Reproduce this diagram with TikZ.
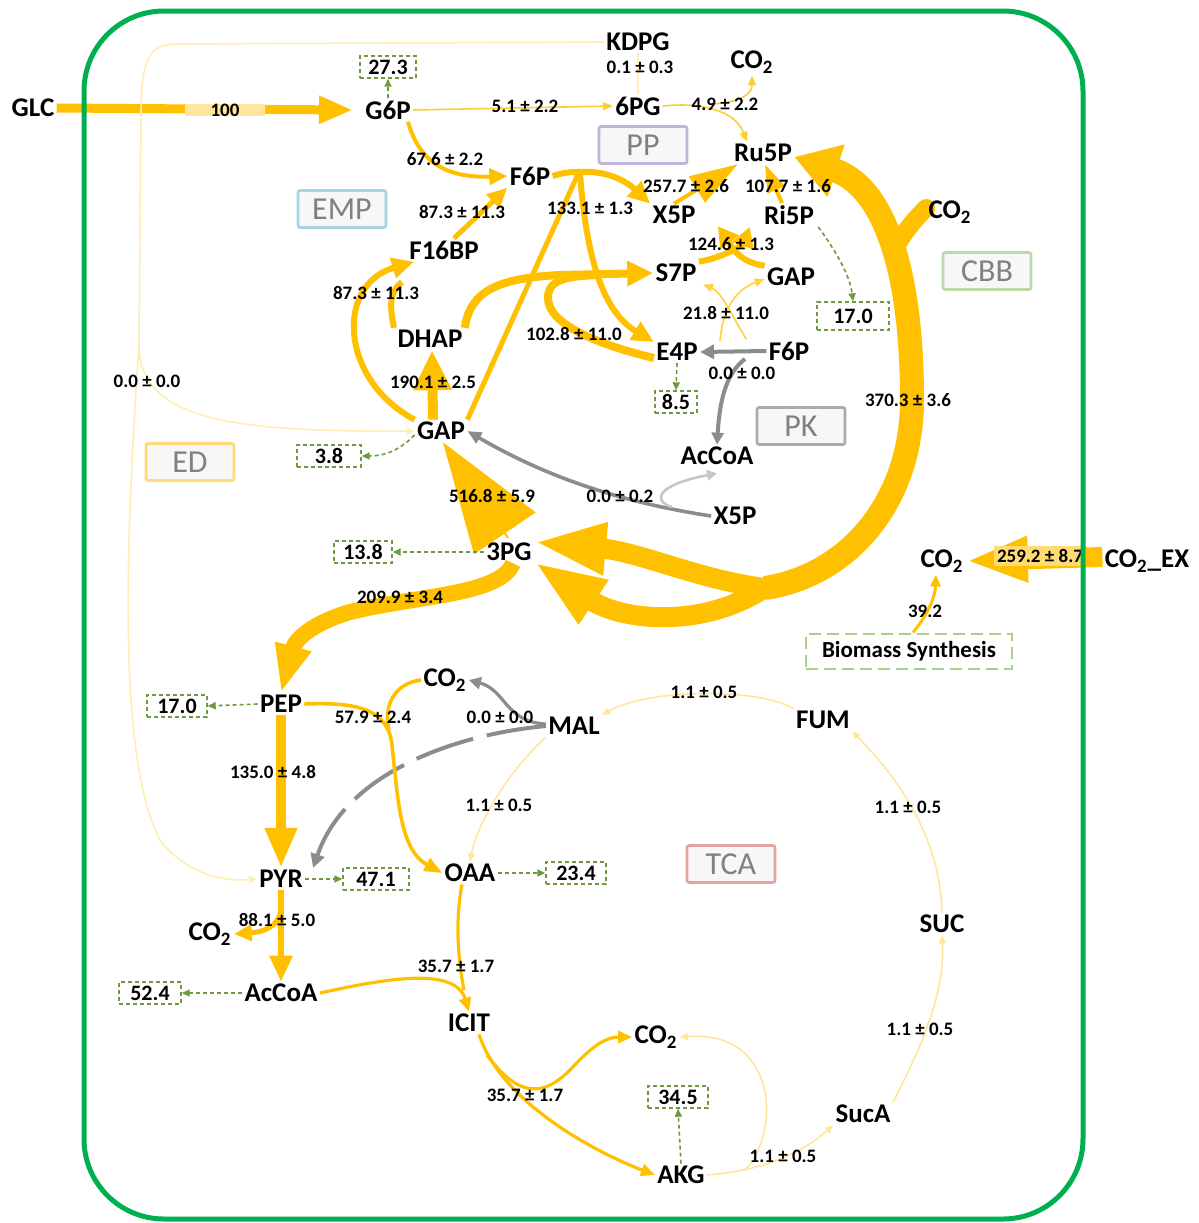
\documentclass[tikz,border=0pt]{standalone}
\usepackage{fontspec}
\setmainfont{Carlito}
\usetikzlibrary{arrows.meta,backgrounds}
\definecolor{gold}{HTML}{FFC000}
\definecolor{pale}{HTML}{FFE699}
\definecolor{paler}{HTML}{FFEDB3}
\definecolor{cellg}{HTML}{00B050}
\definecolor{drn}{HTML}{6E9A3E}
\definecolor{gry}{HTML}{8C8C8C}
\definecolor{hl}{HTML}{FFE69C}
\definecolor{empc}{HTML}{A6D3E3}
\definecolor{ppc}{HTML}{BEB3DA}
\definecolor{cbbc}{HTML}{BCD9A6}
\definecolor{pkc}{HTML}{ABABAB}
\definecolor{edc}{HTML}{FFD97A}
\definecolor{tcac}{HTML}{E3A3A3}
\definecolor{bioc}{HTML}{A9D18E}
\begin{document}
\begin{tikzpicture}[x=0.5pt,y=-0.5pt,
  met/.style={font=\fontsize{13.5}{15}\selectfont\bfseries, inner sep=1pt},
  flux/.style={font=\fontsize{9.5}{11}\selectfont\bfseries, inner sep=0.5pt},
  drain/.style={draw=drn, dash pattern=on 2pt off 1.5pt, line width=0.7pt, font=\fontsize{11}{12}\selectfont\bfseries, inner sep=1.5pt, minimum height=11pt, minimum width=30pt},
  cat/.style={draw=#1, line width=1.3pt, fill=black!3, text=black!50, font=\fontsize{16}{18}\selectfont, minimum width=44pt, minimum height=18.5pt, inner sep=1pt, rounded corners=1pt},
  bio/.style={draw=bioc, line width=1pt, dash pattern=on 6pt off 3pt, font=\fontsize{11.5}{13}\selectfont\bfseries, minimum width=103pt, minimum height=17.5pt, inner sep=2pt},
  dl/.style={draw=drn, line width=0.8pt, dash pattern=on 2pt off 1.5pt, -{Triangle[length=4pt,width=3.5pt]}},
  pl/.style={draw=pale, line width=0.8pt},
  ptip/.style={-{Triangle[length=4pt,width=3.5pt]}},
  stip/.style={-{Triangle[length=5pt,width=4pt]}}
]
\useasboundingbox (0,0) rectangle (1199,1223);

% ---------------- nodes ----------------
\node[met] (GLC) at (33,108) {GLC};
\node[met] (G6P) at (388,110) {G6P};
\node[drain, minimum width=28pt] (d273) at (388,67) {27.3};
\node[met] (KDPG) at (638,42) {KDPG};
\node[met] (CO2a) at (752,62) {CO\textsubscript{2}};
\node[met] (PG6) at (638,106) {6PG};
\node[cat=ppc] (PP) at (643,145) {PP};
\node[met] (Ru5P) at (763,153) {Ru5P};
\node[met] (F6P) at (530,176) {F6P};
\node[cat=empc] (EMP) at (342,209) {EMP};
\node[met] (X5P) at (674,215) {X5P};
\node[met] (Ri5P) at (789,215) {Ri5P};
\node[met] (CO2b) at (950,212) {CO\textsubscript{2}};
\node[met] (F16BP) at (444,250) {F16BP};
\node[met] (S7P) at (676,273) {S7P};
\node[met] (GAPb) at (791,277) {GAP};
\node[cat=cbbc] (CBB) at (987,271) {CBB};
\node[drain, minimum width=36pt, minimum height=14pt] (d170a) at (853,316) {17.0};
\node[met] (DHAP) at (430,339) {DHAP};
\node[met] (E4P) at (677,352) {E4P};
\node[met] (F6Pb) at (789,351) {F6P};
\node[drain, minimum width=21pt] (d85) at (676,402) {8.5};
\node[cat=pkc] (PK) at (801,426) {PK};
\node[met] (GAP) at (441,431) {GAP};
\node[drain, minimum width=32pt] (d38) at (329,456) {3.8};
\node[cat=edc] (ED) at (190,462) {ED};
\node[met] (AcCoAb) at (717,456) {AcCoA};
\node[met] (X5Pb) at (735,516) {X5P};
\node[drain, minimum width=29pt] (d138) at (363,552) {13.8};
\node[met] (PG3) at (509,552) {3PG};
\node[met] (CO2c) at (942,561) {CO\textsubscript{2}};
\node[met] (CO2EX) at (1147,561) {CO\textsubscript{2}\_EX};
\node[bio] (BIO) at (909,651) {Biomass Synthesis};
\node[met] (CO2d) at (445,680) {CO\textsubscript{2}};
\node[drain] (d170b) at (177,706) {17.0};
\node[met] (PEP) at (281,704) {PEP};
\node[met] (MAL) at (574,726) {MAL};
\node[met] (FUM) at (823,720) {FUM};
\node[cat=tcac] (TCA) at (731,864) {TCA};
\node[met] (PYR) at (281,879) {PYR};
\node[drain, minimum width=33pt] (d471) at (376,879) {47.1};
\node[met] (OAA) at (470,873) {OAA};
\node[drain] (d234) at (576,873) {23.4};
\node[met] (CO2e) at (210,934) {CO\textsubscript{2}};
\node[met] (SUC) at (942,924) {SUC};
\node[drain, minimum width=31pt] (d524) at (150,993) {52.4};
\node[met] (AcCoA) at (281,993) {AcCoA};
\node[met] (ICIT) at (469,1023) {ICIT};
\node[met] (CO2f) at (656,1037) {CO\textsubscript{2}};
\node[drain] (d345) at (678,1097) {34.5};
\node[met] (SucA) at (863,1114) {SucA};
\node[met] (AKG) at (681,1175) {AKG};

% ---------------- flux labels ----------------
\node[flux, fill=hl, minimum width=40pt, minimum height=4.5pt, inner sep=0pt] (f100) at (225,110) {100};
\node[flux] (fa) at (640,67) {0.1 ± 0.3};
\node[flux] (fb) at (525,106) {5.1 ± 2.2};
\node[flux] (fc) at (725,104) {4.9 ± 2.2};
\node[flux] (fd) at (445,159) {67.6 ± 2.2};
\node[flux] (fe) at (462,212) {87.3 ± 11.3};
\node[flux] (ff) at (590,208) {133.1 ± 1.3};
\node[flux] (fg) at (686,186) {257.7 ± 2.6};
\node[flux] (fh) at (788,186) {107.7 ± 1.6};
\node[flux] (fi) at (731,244) {124.6 ± 1.3};
\node[flux] (fj) at (376,293) {87.3 ± 11.3};
\node[flux] (fk) at (726,313) {21.8 ± 11.0};
\node[flux] (fl) at (574,334) {102.8 ± 11.0};
\node[flux] (fm) at (742,373) {0.0 ± 0.0};
\node[flux] (fn) at (147,381) {0.0 ± 0.0};
\node[flux] (fo) at (433,382) {190.1 ± 2.5};
\node[flux] (fp) at (908,400) {370.3 ± 3.6};
\node[flux] (fq) at (492,496) {516.8 ± 5.9};
\node[flux] (fr) at (620,496) {0.0 ± 0.2};
\node[flux, fill=gold!55, inner sep=1.5pt] (fs) at (1040,556) {259.2 ± 8.7};
\node[flux] (ft) at (400,597) {209.9 ± 3.4};
\node[flux] (fu) at (925,611) {39.2};
\node[flux] (fv) at (704,692) {1.1 ± 0.5};
\node[flux] (fw) at (373,717) {57.9 ± 2.4};
\node[flux] (fx) at (500,717) {0.0 ± 0.0};
\node[flux] (fy) at (273,772) {135.0 ± 4.8};
\node[flux] (fz) at (499,805) {1.1 ± 0.5};
\node[flux] (fA) at (908,807) {1.1 ± 0.5};
\node[flux] (fB) at (277,920) {88.1 ± 5.0};
\node[flux] (fC) at (456,966) {35.7 ± 1.7};
\node[flux] (fD) at (920,1029) {1.1 ± 0.5};
\node[flux] (fE) at (525,1095) {35.7 ± 1.7};
\node[flux] (fF) at (783,1156) {1.1 ± 0.5};

% ---------------- connectors ----------------
\begin{scope}[on background layer]
% GLC uptake
\draw[gold, line width=4.5pt, -{Triangle[length=17pt,width=13pt]}] (GLC.east) -- ([xshift=-5pt]G6P.west);
% oxidative PP
\draw[gold!80, line width=0.8pt, stip] (G6P.east) -- (PG6.west);
\draw[paler, line width=0.8pt] (PG6.north) -- (KDPG.south);
\draw[gold!80, line width=0.8pt, stip] (PG6.east) .. controls (700,102) and (735,110) .. ([xshift=-8pt]Ru5P.north);
\draw[gold!80, line width=0.8pt, stip] (712,104) .. controls (745,102) and (752,92) .. (CO2a.south);
% ED
\draw[paler, line width=0.8pt] (KDPG.west) -- (175,44) .. controls (148,45) and (142,60) .. (141,110) -- (139,345) coordinate (edsplit);
\draw[paler, line width=0.8pt, ptip] (edsplit) .. controls (140,420) and (230,432) .. (GAP.west);
\draw[paler, line width=0.8pt, ptip] (edsplit) .. controls (125,550) and (118,760) .. (160,840) .. controls (185,872) and (220,882) .. (PYR.west);
% EMP
\draw[gold, line width=2pt, -{Triangle[length=9pt,width=8pt]}] ([xshift=10pt]G6P.south) .. controls (420,165) and (450,178) .. (F6P.west);
\draw[gold, line width=2.5pt, -{Triangle[length=10pt,width=9pt]}] ([xshift=5pt]F16BP.north) -- (F6P.south west);
\draw[gold, line width=3pt, -{Triangle[length=11pt,width=10pt]}] (GAP.north west) .. controls (340,380) and (335,285) .. ([xshift=-15pt]F16BP.south);
\draw[gold, line width=3pt] ([xshift=-18pt]DHAP.north) .. controls (388,300) and (392,290) .. (402,282);
\draw[gold, line width=5pt, -{Triangle[length=20pt,width=18pt]}] ([xshift=-4pt]GAP.north) -- ([xshift=1pt]DHAP.south);
% transketolase 1
\draw[gold, line width=2.5pt] (GAP.north east) -- (578,174);
\draw[gold, line width=3pt] (F6P.east) .. controls (565,172) and (572,172) .. (580,172);
\draw[gold, line width=3pt, -{Triangle[length=11pt,width=10pt]}] (578,172) .. controls (605,170) and (625,180) .. (X5P.north west);
\draw[gold, line width=3pt, -{Triangle[length=11pt,width=10pt]}] (580,174) .. controls (586,250) and (600,310) .. ([yshift=5pt]E4P.west);
% SBP route
\draw[gold, line width=4pt, -{Triangle[length=13pt,width=12pt]}] (DHAP.north east) .. controls (470,290) and (500,278) .. (560,275) -- (S7P.west);
\draw[gold, line width=4pt] ([yshift=-3pt]E4P.west) .. controls (600,345) and (548,325) .. (548,298) .. controls (548,280) and (565,276) .. (600,275);
% transketolase 2
\draw[gold, line width=3pt, -{Triangle[length=10pt,width=11pt]}] (S7P.north east) .. controls (735,255) and (745,240) .. ([xshift=-6pt]Ri5P.south west);
\draw[gold, line width=3pt, -{Triangle[length=10pt,width=11pt]}] (GAPb.north west) .. controls (735,262) and (728,240) .. ([xshift=10pt]X5P.south east);
% transaldolase
\draw[gold!75, line width=0.8pt, stip] ([xshift=10pt]E4P.north east) .. controls (722,318) and (730,292) .. ([yshift=-1pt]GAPb.west);
\draw[gold!75, line width=0.8pt, stip] ([xshift=-10pt]F6Pb.north west) .. controls (733,318) and (722,292) .. ([xshift=2pt]S7P.south east);
% pentose phosphates
\draw[gold, line width=2pt, -{Triangle[length=24pt,width=15pt]}] (X5P.north) -- ([xshift=3pt]Ru5P.south west);
\draw[gold, line width=2pt, -{Triangle[length=14pt,width=9pt]}] ([xshift=-3.5pt]Ri5P.north) -- ([xshift=1pt]Ru5P.south);
% CBB
\draw[gold, line width=12pt, {Triangle[length=22pt,width=26pt]}-] ([yshift=-2pt]Ru5P.east) .. controls (880,185) and (912,260) .. (912,400) .. controls (912,500) and (850,575) .. (765,588) coordinate (cbbE);
\draw[gold, line width=9pt, line cap=round] ([yshift=2pt]CO2b.west) .. controls (912,222) and (902,235) .. (893,252);
\draw[gold, line width=10pt, line cap=round, -{Triangle[length=36pt,width=24pt]}] (cbbE) .. controls (700,580) and (640,552) .. ([yshift=5pt]PG3.east);
\draw[gold, line width=10pt, line cap=round, -{Triangle[length=36pt,width=24pt]}] (cbbE) .. controls (700,630) and (620,620) .. ([yshift=-5pt]PG3.east);
% lower glycolysis
\draw[gold, line width=1pt, -{Triangle[length=55pt,width=37pt]}] (508,538) -- ([xshift=1pt]GAP.south);
\draw[gold, line width=8pt, -{Triangle[length=24pt,width=17pt]}] ([xshift=2pt]PG3.south) .. controls (500,595) and (420,595) .. (350,612) .. controls (310,624) and (295,640) .. (PEP.north);
\draw[gold, line width=5pt, -{Triangle[length=20pt,width=15pt]}] (PEP.south) -- (PYR.north);
\draw[gold, line width=3pt, -{Triangle[length=13pt,width=11pt]}] (PYR.south) -- (AcCoA.north);
\draw[gold, line width=2.5pt, -{Triangle[length=9pt,width=8pt]}] (281,910) .. controls (278,928) and (262,932) .. (CO2e.east);
% malic enzyme
\draw[gry, line width=2pt, dash pattern=on 30pt off 7pt, -{Triangle[length=7pt,width=7pt]}] (MAL.west) .. controls (450,735) and (345,775) .. ([xshift=4pt]PYR.north east);
\draw[gry, line width=1.6pt, -{Triangle[length=6pt,width=6pt]}] ([yshift=1pt]MAL.west) .. controls (505,722) and (506,690) .. (CO2d.east);
% anaplerosis
\draw[gold, line width=1.8pt, -{Triangle[length=9pt,width=7pt]}] (PEP.east) .. controls (355,702) and (388,708) .. (392,745) .. controls (398,800) and (400,850) .. (OAA.west);
\draw[gold, line width=1.8pt] (CO2d.west) .. controls (395,683) and (383,705) .. (389,730);
% TCA
\draw[gold, line width=1.6pt, -{Triangle[length=7pt,width=6pt]}] (AcCoA.east) .. controls (380,980) and (455,965) .. (ICIT.north);
\draw[gold, line width=1.6pt] ([xshift=-4pt]OAA.south) .. controls (455,920) and (458,960) .. (464,990);
\draw[gold, line width=1.6pt, -{Triangle[length=7pt,width=6pt]}] ([xshift=5pt]ICIT.south) .. controls (500,1100) and (590,1150) .. (AKG.west);
\draw[gold, line width=1.6pt, -{Triangle[length=7pt,width=6pt]}] (487,1055) .. controls (520,1100) and (545,1095) .. (570,1070) .. controls (590,1048) and (605,1037) .. (CO2f.west);
\draw[pl, ptip] (AKG.east) .. controls (770,1170) and (805,1150) .. (SucA.south west);
\draw[pl, ptip] (745,1170) .. controls (780,1135) and (780,1030) .. (CO2f.east);
\draw[pl, ptip] (SucA.north east) .. controls (925,1040) and (945,990) .. (SUC.south);
\draw[pl, ptip] (SUC.north) .. controls (940,830) and (890,770) .. (FUM.south east);
\draw[pl, ptip] (FUM.north west) .. controls (760,688) and (650,688) .. (MAL.north east);
\draw[pl, ptip] (MAL.south west) .. controls (510,770) and (478,820) .. (OAA.north);
% phosphoketolase
\draw[gry, line width=2pt, -{Triangle[length=7pt,width=7pt]}] (F6Pb.west) -- (E4P.east);
\draw[gry, line width=2pt, -{Triangle[length=6pt,width=6pt]}] (745,359) .. controls (728,372) and (720,395) .. (AcCoAb.north);
\draw[gry, line width=1.8pt, -{Triangle[length=7pt,width=6pt]}] (X5Pb.west) .. controls (640,505) and (560,485) .. (GAP.east);
\draw[gry!50, line width=1.3pt, -{Triangle[length=5pt,width=5pt]}] (672,507) .. controls (650,500) and (660,484) .. ([yshift=-3pt]AcCoAb.south);
% CO2 supply
\draw[gold, line width=10pt, -{Triangle[length=31pt,width=21pt]}] ([yshift=2pt]CO2EX.west) -- (CO2c.east);
\draw[gold, line width=1.5pt, -{Triangle[length=6pt,width=5pt]}] ([xshift=2pt]BIO.north) .. controls (925,618) and (935,600) .. ([xshift=-3pt]CO2c.south);
% drains to biomass
\draw[dl] (G6P.north) -- (d273.south);
\draw[dl] ([yshift=-2pt]GAP.west) .. controls (400,450) and (385,456) .. (d38.east);
\draw[dl] (PG3.west) -- (d138.east);
\draw[dl] (E4P.south) -- (d85.north);
\draw[dl] ([xshift=1pt]Ri5P.south east) .. controls (835,250) and (850,275) .. (d170a.north);
\draw[dl] (PEP.west) -- (d170b.east);
\draw[dl] (PYR.east) -- (d471.west);
\draw[dl] (OAA.east) -- (d234.west);
\draw[dl] (AcCoA.west) -- (d524.east);
\draw[dl] (AKG.north) -- (d345.south);
\end{scope}

% cell boundary
\draw[cellg, line width=2.5pt, rounded corners=40pt] (84,11) rectangle (1083,1219);
\end{tikzpicture}
\end{document}
